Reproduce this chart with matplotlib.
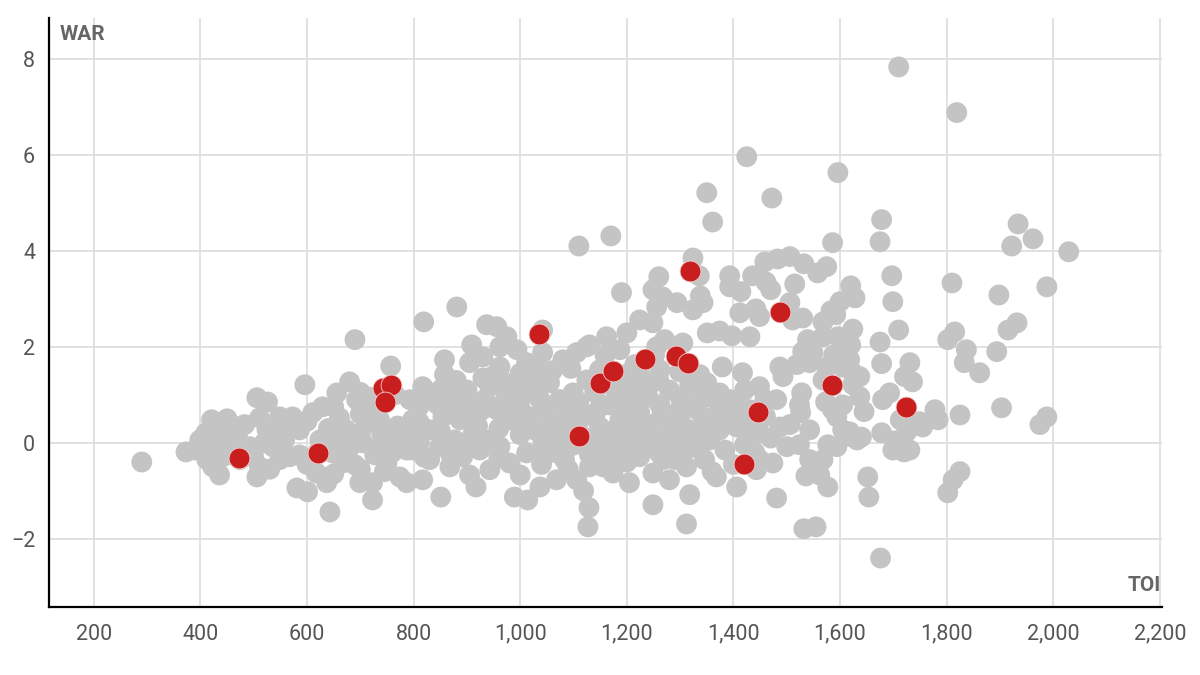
import matplotlib
matplotlib.use("Agg")
import matplotlib.pyplot as plt
from matplotlib.ticker import FuncFormatter, FixedLocator

plt.rcParams['font.family'] = ['Roboto', 'DejaVu Sans']

# ---- data (TOI, WAR) ----
gray_players = [
    (290,-0.40),(373,-0.19),(390,-0.15),(399,0.06),(412,-0.35),(423,-0.50),(436,-0.67),(421,0.48),(450,0.50),(470,0.33),
    (448,0.06),(427,-0.10),(459,-0.25),(493,-0.08),(506,-0.71),(511,-0.50),(536,-0.08),(549,-0.35),(506,0.94),(526,0.85),
    (511,0.52),(525,0.27),(549,0.54),(573,0.54),(568,-0.29),(581,-0.94),(601,-1.02),(596,1.21),(643,-1.44),(637,-0.83),
    (618,-0.63),(611,0.63),(629,0.75),(656,1.04),(693,0.90),(674,0.27),(648,-0.21),(667,-0.42),(705,0.00),(712,0.42),
    (750,-0.42),(774,-0.71),(723,-1.19),(699,-0.83),(787,-0.83),(798,-0.15),(811,0.42),(793,0.90),(817,-0.77),(680,1.27),
    (690,2.15),(757,1.60),(586,0.27),(624,0.06),(661,0.52),(736,0.48),(765,0.06),(727,0.69),(558,0.06),(483,0.38),
    (474,-0.35),(586,-0.25),(690,-0.46),(727,-0.25),(765,1.00),(723,-0.83),(745,-0.60),(700,1.05),(720,0.95),
    (560,0.30),(600,0.45),(640,0.30),(660,0.05),(700,0.20),(740,0.20),(770,0.35),(790,0.10),(760,-0.20),(620,-0.20),
    (650,0.75),(700,0.60),(680,-0.10),(740,-0.05),(600,-0.45),(540,0.20),(520,0.00),(470,0.10),(440,0.25),(410,0.20),
    (400,-0.05),(440,-0.30),(500,-0.30),(530,-0.55),(650,-0.65),(700,-0.55),
    (858,1.42),(817,1.17),(905,1.67),(909,2.04),(930,1.79),(962,1.58),(994,1.94),(962,2.00),(1012,1.67),(1042,1.88),
    (1080,1.73),(1106,1.88),(1125,2.00),(900,1.10),(943,1.17),(975,0.96),(1012,1.31),(1024,1.10),(1055,1.25),(1074,0.90),
    (1099,1.04),(1125,1.31),(1187,1.10),(1211,0.96),(798,0.48),(830,0.27),(855,0.54),(887,0.48),(918,0.54),(956,0.69),
    (980,0.48),(1018,0.54),(1042,0.63),(1074,0.48),(787,-0.15),(811,0.00),(849,-0.08),(892,-0.29),(924,-0.15),(962,-0.08),
    (980,-0.42),(1012,-0.21),(1042,-0.08),(1068,0.06),(851,-1.13),(917,-0.92),(868,-0.50),(989,-1.13),(1014,-1.19),(1037,-0.92),
    (1068,-0.77),(1106,-0.77),(1119,-1.00),(1129,-1.35),(1127,-1.75),(1155,-0.50),(1174,-0.63),(1205,-0.83),(1155,-0.15),(1200,-0.08),
    (1249,-1.29),(1149,0.33),(1187,0.48),(1224,0.63),(819,2.52),(881,2.83),(937,2.46),(956,2.42),(975,2.21),(1042,2.35),
    (1130,2.04),(1162,2.21),(1200,2.29),(1224,2.56),(1249,2.50),(1110,4.10),(1170,4.31),(1190,3.13),(858,1.73),(877,1.00),
    (933,0.90),(1000,0.90),(1037,0.90),(911,0.17),(943,0.06),(1000,0.17),(1027,0.27),(1102,0.27),(1130,0.58),(1168,0.79),
    (877,0.06),(830,-0.35),(943,-0.56),(905,-0.67),(1000,-0.67),(1083,-0.35),(1130,-0.25),(1102,-0.04),(1177,0.06),(1224,0.06),
    (1149,1.52),(1037,1.52),(1159,1.83),(1187,1.94),(1215,1.63),(1252,1.83),(1271,2.15),(1305,2.08),(1256,2.00),(830,1.00),
    (845,0.80),(930,1.35),(965,1.30),(985,1.15),(1060,1.50),(1095,1.55),(1000,1.45),(920,0.35),(960,0.30),(1060,0.30),
    (1085,0.10),(1125,0.10),(1150,0.75),(1190,0.70),(1110,0.85),
    (850,0.25),(870,0.75),(900,0.80),(930,0.70),(970,0.85),(1000,0.70),(1050,0.75),(1090,0.60),(1010,0.35),(1040,0.15),
    (1060,-0.20),(1090,-0.10),(1110,0.45),(1140,0.55),(1160,0.25),(1180,0.25),(1210,0.45),(1170,-0.25),(1200,-0.40),(1130,-0.50),
    (1090,-0.55),(1040,-0.45),(960,-0.30),(900,-0.05),(870,-0.25),(820,-0.30),(810,0.75),(850,1.10),(880,1.30),(950,1.40),
    (1040,1.30),(1140,1.05),(1170,1.20),(1220,1.15),(1260,1.30),
    (1294,2.92),(1267,3.04),(1324,2.77),(1343,2.92),(1324,3.85),(1260,3.46),(1249,3.19),(1256,2.83),(1351,2.29),(1374,2.33),
    (1397,2.23),(1431,2.21),(1412,2.71),(1449,2.63),(1336,3.48),(1338,3.06),(1393,3.48),(1393,3.25),(1414,3.15),(1436,3.48),
    (1459,3.77),(1483,3.83),(1506,3.88),(1461,3.35),(1470,3.19),(1442,2.79),(1532,3.73),(1558,3.54),(1575,3.67),(1515,3.31),
    (1506,2.92),(1511,2.56),(1530,2.60),(1620,3.27),(1628,3.02),(1600,2.94),(1592,2.67),(1568,2.52),(1583,2.75),(1624,2.37),
    (1539,2.15),(1530,1.90),(1568,2.21),(1596,2.21),(1620,2.04),(1543,1.67),(1519,1.63),(1549,1.88),(1588,1.83),(1618,1.73),
    (1575,1.58),(1624,1.46),(1605,1.58),(1637,1.38),(1624,1.21),(1568,1.31),(1528,1.04),(1524,0.79),(1526,0.63),(1573,0.85),
    (1586,0.69),(1594,0.54),(1605,0.79),(1637,0.96),(1645,0.65),(1605,0.27),(1632,0.06),(1577,-0.04),(1568,-0.35),(1562,-0.67),
    (1577,-0.92),(1536,-0.69),(1532,-1.79),(1555,-1.75),(1481,-1.15),(1652,-0.71),(1654,-1.13),(1676,-2.40),(1678,0.21),(1699,-0.15),
    (1731,-0.15),(1680,0.90),(1693,1.04),(1755,0.33),(1778,0.69),(1784,0.48),(1825,0.58),(1903,0.73),(1988,0.54),(1975,0.38),
    (1825,-0.60),(1812,-0.77),(1802,-1.04),(1731,1.67),(1721,1.38),(1736,1.27),(1678,1.65),(1833,1.67),(1837,1.94),(1862,1.46),
    (1894,1.90),(1815,2.31),(1802,2.15),(1915,2.35),(1932,2.50),(1710,2.35),(1675,2.10),(1697,3.48),(1699,2.94),(1810,3.33),
    (1898,3.08),(1988,3.25),(1934,4.56),(1962,4.25),(1922,4.10),(2029,3.98),(1678,4.65),(1675,4.19),(1586,4.17),(1596,5.63),
    (1425,5.96),(1350,5.21),(1472,5.10),(1361,4.60),(1710,7.83),(1819,6.88),
    (1713,0.48),(1725,0.23),(1720,-0.19),(1749,0.44),(1703,0.04),(1620,0.13),(1640,0.12),(1618,0.23),
    (1449,0.21),(1487,0.33),(1500,-0.08),(1474,-0.42),(1443,-0.56),(1406,-0.92),(1368,-0.71),(1318,-1.08),(1312,-1.69),(1594,-0.08),
    (1249,-0.63),(1280,-0.77),(1312,-0.50),(1268,-0.35),(1224,-0.29),(1379,1.58),(1417,1.46),(1449,1.17),(1481,0.90),(1493,1.38),
    (1487,1.58),(1350,1.25),(1374,1.04),(1406,0.75),(1343,0.54),(1374,0.27),(1406,0.33),(1449,-0.35),(1543,-0.35),
    (1243,1.21),(1280,1.10),(1318,1.21),(1337,0.90),(1262,0.79),(1299,0.69),(1243,0.38),(1280,0.27),(1318,0.27),(1355,0.06),
    (1271,-0.04),(1309,-0.15),(1346,-0.35),(1384,-0.15),(1421,-0.04),(1337,1.42),(1299,1.48),(1224,1.42),(1196,1.42),(1262,1.52),
    (1393,0.90),(1431,0.69),(1374,0.69),(1421,1.10),(1459,0.90),(1506,0.38),(1543,0.27),(1524,-0.04),(1240,0.95),(1205,0.25),
    (1230,-0.05),(1300,0.45),(1360,0.40),(1395,0.45),(1420,0.30),(1265,0.55),(1330,0.70),(1290,-0.35),(1400,-0.45),(1360,-0.60),
    (1350,0.95),(1300,0.95),(1380,0.50),(1430,0.50),(1460,0.55),(1470,0.10),(1440,-0.20),(1330,-0.10),(1300,0.05),(1250,0.10),
    (1260,-0.20),(1340,0.20),(1230,0.25),(1190,0.00),(1160,0.00),(1130,-0.10),
]

red_players = [
    (472,-0.31),(620,-0.21),(742,1.15),(757,1.20),(746,0.85),(1035,2.27),(1111,0.15),(1149,1.25),(1175,1.50),
    (1235,1.75),(1293,1.80),(1314,1.67),(1318,3.58),(1419,-0.44),(1447,0.65),(1487,2.73),(1584,1.21),(1723,0.75),
]

x_ticks = [200, 400, 600, 800, 1000, 1200, 1400, 1600, 1800, 2000, 2200]
y_ticks = [-2, 0, 2, 4, 6, 8]
x_label = "TOI"
y_label = "WAR"

GRAY = "#c4c4c4"
RED = "#c81e1e"
TEXT = "#666666"

fig = plt.figure(figsize=(12, 6.75), dpi=100)
ax = fig.add_axes([49/1200, 1-607/675, 1113/1200, 589/675])

gx = [p[0] for p in gray_players]
gy = [p[1] for p in gray_players]
rx = [p[0] for p in red_players]
ry = [p[1] for p in red_players]

ax.scatter(gx, gy, s=225, color=GRAY, edgecolors='none', zorder=3)
ax.scatter(rx, ry, s=225, color=RED, edgecolors='#f0d0d0', linewidths=0.6, zorder=4)

ax.set_xlim(116, 2204)
ax.set_ylim(-3.42, 8.85)

ax.xaxis.set_major_locator(FixedLocator(x_ticks))
ax.yaxis.set_major_locator(FixedLocator(y_ticks))
ax.xaxis.set_major_formatter(FuncFormatter(lambda v, p: f"{int(v):,}"))
ax.yaxis.set_major_formatter(FuncFormatter(lambda v, p: f"{int(v)}".replace("-", "\u2212")))

ax.grid(True, color="#dedede", linewidth=1.3, zorder=0)
ax.set_axisbelow(True)

for s in ["top", "right"]:
    ax.spines[s].set_visible(False)
for s in ["left", "bottom"]:
    ax.spines[s].set_color("black")
    ax.spines[s].set_linewidth(1.6)

ax.tick_params(axis='both', length=0, labelsize=15.5, labelcolor="#555555")
ax.tick_params(axis='x', pad=12)
ax.tick_params(axis='y', pad=10)

ax.text(0.0099, 0.9626, y_label, transform=ax.transAxes, fontsize=15, fontweight='bold',
        color=TEXT, ha='left', va='baseline')
ax.text(0.999, 0.0272, x_label, transform=ax.transAxes, fontsize=15, fontweight='bold',
        color=TEXT, ha='right', va='baseline')

fig.savefig("out.png", dpi=100, facecolor="white")
